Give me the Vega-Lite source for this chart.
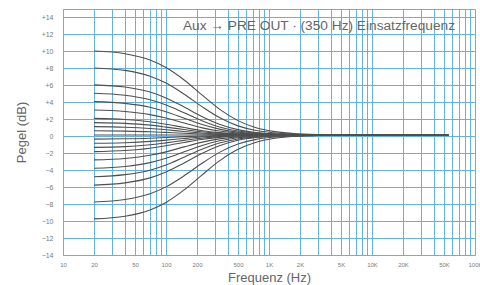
{
  "$schema": "https://vega.github.io/schema/vega-lite/v6.json",
  "autosize": {"type": "none"},
  "padding": {"left": 63, "top": 9, "right": 5, "bottom": 30},
  "width": 412,
  "height": 246,
  "background": "white",
  "title": {"text": "Aux → PRE OUT · (350 Hz) Einsatzfrequenz", "anchor": "end", "offset": -28, "dx": -27, "fontSize": 13.7, "font": "Liberation Sans", "fontWeight": "normal", "color": "#666666"},
  "config": {"view": {"stroke": null}, "font": "Liberation Sans"},
  "datasets": {
    "curves": [
      {"f":20,"g":10,"db":10.04},{"f":40,"g":10,"db":9.73},{"f":70,"g":10,"db":8.99},{"f":100,"g":10,"db":8.10},{"f":150,"g":10,"db":6.63},{"f":220,"g":10,"db":4.94},{"f":330,"g":10,"db":3.20},{"f":500,"g":10,"db":1.84},{"f":750,"g":10,"db":1.00},{"f":1100,"g":10,"db":0.57},{"f":1700,"g":10,"db":0.33},{"f":3000,"g":10,"db":0.21},{"f":6000,"g":10,"db":0.17},{"f":55000,"g":10,"db":0.15},
      {"f":20,"g":8,"db":8.05},{"f":40,"g":8,"db":7.76},{"f":70,"g":8,"db":7.08},{"f":100,"g":8,"db":6.27},{"f":150,"g":8,"db":4.96},{"f":220,"g":8,"db":3.55},{"f":330,"g":8,"db":2.20},{"f":500,"g":8,"db":1.22},{"f":750,"g":8,"db":0.67},{"f":1100,"g":8,"db":0.41},{"f":1700,"g":8,"db":0.26},{"f":3000,"g":8,"db":0.19},{"f":6000,"g":8,"db":0.16},{"f":55000,"g":8,"db":0.15},
      {"f":20,"g":6,"db":6.06},{"f":40,"g":6,"db":5.80},{"f":70,"g":6,"db":5.21},{"f":100,"g":6,"db":4.52},{"f":150,"g":6,"db":3.45},{"f":220,"g":6,"db":2.37},{"f":330,"g":6,"db":1.42},{"f":500,"g":6,"db":0.78},{"f":750,"g":6,"db":0.45},{"f":1100,"g":6,"db":0.30},{"f":1700,"g":6,"db":0.21},{"f":3000,"g":6,"db":0.17},{"f":6000,"g":6,"db":0.16},{"f":55000,"g":6,"db":0.15},
      {"f":20,"g":5,"db":5.07},{"f":40,"g":5,"db":4.83},{"f":70,"g":5,"db":4.30},{"f":100,"g":5,"db":3.69},{"f":150,"g":5,"db":2.77},{"f":220,"g":5,"db":1.86},{"f":330,"g":5,"db":1.10},{"f":500,"g":5,"db":0.62},{"f":750,"g":5,"db":0.37},{"f":1100,"g":5,"db":0.26},{"f":1700,"g":5,"db":0.20},{"f":3000,"g":5,"db":0.16},{"f":6000,"g":5,"db":0.15},{"f":55000,"g":5,"db":0.15},
      {"f":20,"g":4,"db":4.08},{"f":40,"g":4,"db":3.87},{"f":70,"g":4,"db":3.41},{"f":100,"g":4,"db":2.89},{"f":150,"g":4,"db":2.13},{"f":220,"g":4,"db":1.41},{"f":330,"g":4,"db":0.84},{"f":500,"g":4,"db":0.48},{"f":750,"g":4,"db":0.31},{"f":1100,"g":4,"db":0.22},{"f":1700,"g":4,"db":0.18},{"f":3000,"g":4,"db":0.16},{"f":6000,"g":4,"db":0.15},{"f":55000,"g":4,"db":0.15},
      {"f":20,"g":3,"db":3.09},{"f":40,"g":3,"db":2.92},{"f":70,"g":3,"db":2.55},{"f":100,"g":3,"db":2.14},{"f":150,"g":3,"db":1.55},{"f":220,"g":3,"db":1.02},{"f":330,"g":3,"db":0.61},{"f":500,"g":3,"db":0.37},{"f":750,"g":3,"db":0.25},{"f":1100,"g":3,"db":0.20},{"f":1700,"g":3,"db":0.17},{"f":3000,"g":3,"db":0.16},{"f":6000,"g":3,"db":0.15},{"f":55000,"g":3,"db":0.15},
      {"f":20,"g":2,"db":2.11},{"f":40,"g":2,"db":1.98},{"f":70,"g":2,"db":1.71},{"f":100,"g":2,"db":1.42},{"f":150,"g":2,"db":1.03},{"f":220,"g":2,"db":0.68},{"f":330,"g":2,"db":0.43},{"f":500,"g":2,"db":0.28},{"f":750,"g":2,"db":0.21},{"f":1100,"g":2,"db":0.18},{"f":1700,"g":2,"db":0.16},{"f":3000,"g":2,"db":0.15},{"f":6000,"g":2,"db":0.15},{"f":55000,"g":2,"db":0.15},
      {"f":20,"g":1.5,"db":1.61},{"f":40,"g":1.5,"db":1.52},{"f":70,"g":1.5,"db":1.31},{"f":100,"g":1.5,"db":1.08},{"f":150,"g":1.5,"db":0.79},{"f":220,"g":1.5,"db":0.53},{"f":330,"g":1.5,"db":0.35},{"f":500,"g":1.5,"db":0.24},{"f":750,"g":1.5,"db":0.19},{"f":1100,"g":1.5,"db":0.17},{"f":1700,"g":1.5,"db":0.16},{"f":3000,"g":1.5,"db":0.15},{"f":6000,"g":1.5,"db":0.15},{"f":55000,"g":1.5,"db":0.15},
      {"f":20,"g":1,"db":1.13},{"f":40,"g":1,"db":1.06},{"f":70,"g":1,"db":0.91},{"f":100,"g":1,"db":0.76},{"f":150,"g":1,"db":0.56},{"f":220,"g":1,"db":0.39},{"f":330,"g":1,"db":0.28},{"f":500,"g":1,"db":0.21},{"f":750,"g":1,"db":0.18},{"f":1100,"g":1,"db":0.16},{"f":1700,"g":1,"db":0.16},{"f":3000,"g":1,"db":0.15},{"f":6000,"g":1,"db":0.15},{"f":55000,"g":1,"db":0.15},
      {"f":20,"g":0.5,"db":0.64},{"f":40,"g":0.5,"db":0.60},{"f":70,"g":0.5,"db":0.53},{"f":100,"g":0.5,"db":0.45},{"f":150,"g":0.5,"db":0.35},{"f":220,"g":0.5,"db":0.27},{"f":330,"g":0.5,"db":0.21},{"f":500,"g":0.5,"db":0.18},{"f":750,"g":0.5,"db":0.16},{"f":1100,"g":0.5,"db":0.16},{"f":1700,"g":0.5,"db":0.15},{"f":3000,"g":0.5,"db":0.15},{"f":6000,"g":0.5,"db":0.15},{"f":55000,"g":0.5,"db":0.15},
      {"f":20,"g":0,"db":0.15},{"f":40,"g":0,"db":0.15},{"f":70,"g":0,"db":0.15},{"f":100,"g":0,"db":0.15},{"f":150,"g":0,"db":0.15},{"f":220,"g":0,"db":0.15},{"f":330,"g":0,"db":0.15},{"f":500,"g":0,"db":0.15},{"f":750,"g":0,"db":0.15},{"f":1100,"g":0,"db":0.15},{"f":1700,"g":0,"db":0.15},{"f":3000,"g":0,"db":0.15},{"f":6000,"g":0,"db":0.15},{"f":55000,"g":0,"db":0.15},
      {"f":20,"g":-0.5,"db":-0.34},{"f":40,"g":-0.5,"db":-0.30},{"f":70,"g":-0.5,"db":-0.23},{"f":100,"g":-0.5,"db":-0.15},{"f":150,"g":-0.5,"db":-0.05},{"f":220,"g":-0.5,"db":0.03},{"f":330,"g":-0.5,"db":0.09},{"f":500,"g":-0.5,"db":0.12},{"f":750,"g":-0.5,"db":0.14},{"f":1100,"g":-0.5,"db":0.14},{"f":1700,"g":-0.5,"db":0.15},{"f":3000,"g":-0.5,"db":0.15},{"f":6000,"g":-0.5,"db":0.15},{"f":55000,"g":-0.5,"db":0.15},
      {"f":20,"g":-1,"db":-0.83},{"f":40,"g":-1,"db":-0.76},{"f":70,"g":-1,"db":-0.61},{"f":100,"g":-1,"db":-0.46},{"f":150,"g":-1,"db":-0.26},{"f":220,"g":-1,"db":-0.09},{"f":330,"g":-1,"db":0.02},{"f":500,"g":-1,"db":0.09},{"f":750,"g":-1,"db":0.12},{"f":1100,"g":-1,"db":0.14},{"f":1700,"g":-1,"db":0.15},{"f":3000,"g":-1,"db":0.15},{"f":6000,"g":-1,"db":0.15},{"f":55000,"g":-1,"db":0.15},
      {"f":20,"g":-1.5,"db":-1.31},{"f":40,"g":-1.5,"db":-1.22},{"f":70,"g":-1.5,"db":-1.01},{"f":100,"g":-1.5,"db":-0.78},{"f":150,"g":-1.5,"db":-0.49},{"f":220,"g":-1.5,"db":-0.23},{"f":330,"g":-1.5,"db":-0.05},{"f":500,"g":-1.5,"db":0.06},{"f":750,"g":-1.5,"db":0.11},{"f":1100,"g":-1.5,"db":0.13},{"f":1700,"g":-1.5,"db":0.14},{"f":3000,"g":-1.5,"db":0.15},{"f":6000,"g":-1.5,"db":0.15},{"f":55000,"g":-1.5,"db":0.15},
      {"f":20,"g":-2,"db":-1.81},{"f":40,"g":-2,"db":-1.68},{"f":70,"g":-2,"db":-1.41},{"f":100,"g":-2,"db":-1.12},{"f":150,"g":-2,"db":-0.73},{"f":220,"g":-2,"db":-0.38},{"f":330,"g":-2,"db":-0.13},{"f":500,"g":-2,"db":0.02},{"f":750,"g":-2,"db":0.09},{"f":1100,"g":-2,"db":0.12},{"f":1700,"g":-2,"db":0.14},{"f":3000,"g":-2,"db":0.15},{"f":6000,"g":-2,"db":0.15},{"f":55000,"g":-2,"db":0.15},
      {"f":20,"g":-3,"db":-2.79},{"f":40,"g":-3,"db":-2.62},{"f":70,"g":-3,"db":-2.25},{"f":100,"g":-3,"db":-1.84},{"f":150,"g":-3,"db":-1.25},{"f":220,"g":-3,"db":-0.72},{"f":330,"g":-3,"db":-0.31},{"f":500,"g":-3,"db":-0.07},{"f":750,"g":-3,"db":0.05},{"f":1100,"g":-3,"db":0.10},{"f":1700,"g":-3,"db":0.13},{"f":3000,"g":-3,"db":0.14},{"f":6000,"g":-3,"db":0.15},{"f":55000,"g":-3,"db":0.15},
      {"f":20,"g":-4,"db":-3.78},{"f":40,"g":-4,"db":-3.57},{"f":70,"g":-4,"db":-3.11},{"f":100,"g":-4,"db":-2.59},{"f":150,"g":-4,"db":-1.83},{"f":220,"g":-4,"db":-1.11},{"f":330,"g":-4,"db":-0.54},{"f":500,"g":-4,"db":-0.18},{"f":750,"g":-4,"db":-0.01},{"f":1100,"g":-4,"db":0.08},{"f":1700,"g":-4,"db":0.12},{"f":3000,"g":-4,"db":0.14},{"f":6000,"g":-4,"db":0.15},{"f":55000,"g":-4,"db":0.15},
      {"f":20,"g":-5,"db":-4.77},{"f":40,"g":-5,"db":-4.53},{"f":70,"g":-5,"db":-4.00},{"f":100,"g":-5,"db":-3.39},{"f":150,"g":-5,"db":-2.47},{"f":220,"g":-5,"db":-1.56},{"f":330,"g":-5,"db":-0.80},{"f":500,"g":-5,"db":-0.32},{"f":750,"g":-5,"db":-0.07},{"f":1100,"g":-5,"db":0.04},{"f":1700,"g":-5,"db":0.11},{"f":3000,"g":-5,"db":0.14},{"f":6000,"g":-5,"db":0.15},{"f":55000,"g":-5,"db":0.15},
      {"f":20,"g":-6,"db":-5.76},{"f":40,"g":-6,"db":-5.50},{"f":70,"g":-6,"db":-4.91},{"f":100,"g":-6,"db":-4.22},{"f":150,"g":-6,"db":-3.15},{"f":220,"g":-6,"db":-2.07},{"f":330,"g":-6,"db":-1.12},{"f":500,"g":-6,"db":-0.48},{"f":750,"g":-6,"db":-0.15},{"f":1100,"g":-6,"db":0.01},{"f":1700,"g":-6,"db":0.09},{"f":3000,"g":-6,"db":0.13},{"f":6000,"g":-6,"db":0.15},{"f":55000,"g":-6,"db":0.15},
      {"f":20,"g":-8,"db":-7.75},{"f":40,"g":-8,"db":-7.46},{"f":70,"g":-8,"db":-6.78},{"f":100,"g":-8,"db":-5.97},{"f":150,"g":-8,"db":-4.66},{"f":220,"g":-8,"db":-3.25},{"f":330,"g":-8,"db":-1.90},{"f":500,"g":-8,"db":-0.92},{"f":750,"g":-8,"db":-0.37},{"f":1100,"g":-8,"db":-0.11},{"f":1700,"g":-8,"db":0.04},{"f":3000,"g":-8,"db":0.12},{"f":6000,"g":-8,"db":0.14},{"f":55000,"g":-8,"db":0.15},
      {"f":20,"g":-10,"db":-9.74},{"f":40,"g":-10,"db":-9.43},{"f":70,"g":-10,"db":-8.69},{"f":100,"g":-10,"db":-7.80},{"f":150,"g":-10,"db":-6.33},{"f":220,"g":-10,"db":-4.64},{"f":330,"g":-10,"db":-2.90},{"f":500,"g":-10,"db":-1.54},{"f":750,"g":-10,"db":-0.70},{"f":1100,"g":-10,"db":-0.27},{"f":1700,"g":-10,"db":-0.03},{"f":3000,"g":-10,"db":0.09},{"f":6000,"g":-10,"db":0.14},{"f":55000,"g":-10,"db":0.15}
    ]
  },
  "data": {"name": "curves"},
  "mark": {"type": "line", "interpolate": "monotone", "color": "#4f4f4f", "strokeWidth": 1.1, "clip": true},
  "encoding": {
    "x": {
      "field": "f", "type": "quantitative",
      "scale": {"type": "log", "domain": [10, 100000], "nice": false},
      "axis": {
        "title": "Frequenz (Hz)",
        "values": [10,20,30,40,50,60,70,80,90,100,200,300,400,500,600,700,800,900,1000,2000,3000,4000,5000,6000,7000,8000,9000,10000,20000,30000,40000,50000,60000,70000,80000,90000,100000],
        "labelExpr": "indexof([10,20,50,100,200,500],datum.value)>=0 ? ''+datum.value : (indexof([1000,2000,5000,10000,20000,50000,100000],datum.value)>=0 ? (datum.value/1000)+'K' : '')",
        "grid": true, "gridColor": "#64b3de", "gridWidth": 1,
        "domainColor": "#64b3de", "ticks": false,
        "labelFontSize": 6, "labelColor": "#7a7a7a", "labelPadding": 6,
        "labelFlush": false, "labelOverlap": false, "labelBound": false,
        "titleFontSize": 13, "titleColor": "#666666", "titleFontWeight": "normal", "titlePadding": 4
      }
    },
    "y": {
      "field": "db", "type": "quantitative",
      "scale": {"domain": [-14, 15], "nice": false, "zero": false},
      "axis": {
        "title": "Pegel (dB)",
        "values": [-14,-12,-10,-8,-6,-4,-2,0,2,4,6,8,10,12,14,15],
        "labelExpr": "datum.value==15 ? '' : (datum.value>0 ? '+'+datum.value : (datum.value<0 ? '−'+abs(datum.value) : '0'))",
        "grid": true, "gridColor": "#64b3de", "gridWidth": 1,
        "domainColor": "#64b3de", "ticks": false,
        "labelFontSize": 7, "labelColor": "#7a7a7a", "labelPadding": 10,
        "labelOverlap": false, "labelBound": false,
        "titleFontSize": 13, "titleColor": "#666666", "titleFontWeight": "normal", "titlePadding": 13
      }
    },
    "detail": {"field": "g", "type": "nominal"}
  }
}
